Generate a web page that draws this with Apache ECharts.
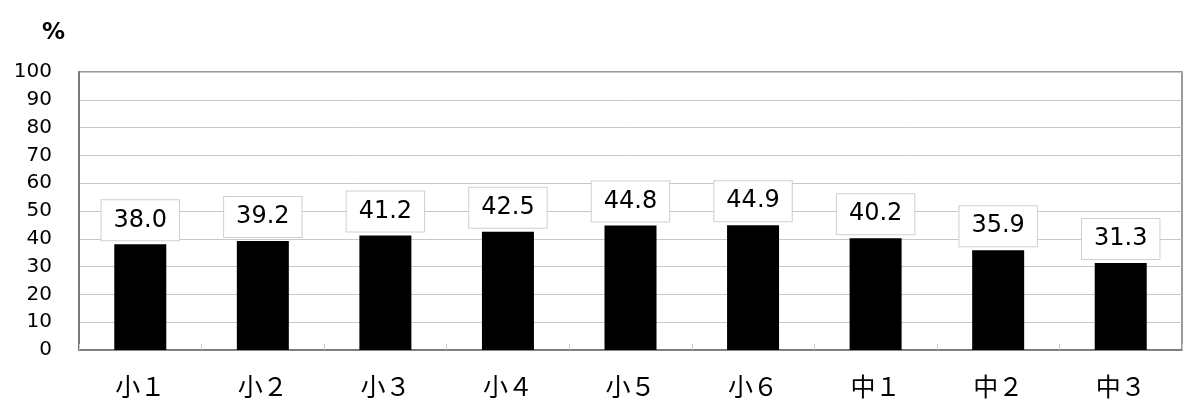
<!DOCTYPE html>
<html>
<head>
<meta charset="utf-8">
<script src="https://cdn.jsdelivr.net/npm/echarts@6/dist/echarts.min.js"></script>
<style>html,body{margin:0;padding:0;background:#fff}#c{width:1200px;height:413px}</style>
</head>
<body>
<div id="c"></div>
<script>
var categories = ['小１', '小２', '小３', '小４', '小５', '小６', '中１', '中２', '中３'];
var values = [38.0, 39.2, 41.2, 42.5, 44.8, 44.9, 40.2, 35.9, 31.3];
var yTicks = { min: 0, max: 100, interval: 10 };
var unitLabel = '%';

var chart = echarts.init(document.getElementById('c'));
chart.setOption({
  animation: false,
  backgroundColor: '#fff',
  grid: {
    left: 79, right: 18, top: 72, bottom: 63,
    show: true, borderColor: '#7a7a7a', borderWidth: 1.5, backgroundColor: '#fff'
  },
  graphic: [{
    type: 'text', left: 42, top: 22,
    style: { text: unitLabel, font: 'bold 23px "DejaVu Sans"', fill: '#000' }
  }],
  xAxis: {
    type: 'category',
    data: categories,
    axisLine: { show: true, lineStyle: { color: '#6e6e6e', width: 1.5 } },
    axisTick: { show: true, inside: true, length: 6, lineStyle: { color: '#c8c8c8' } },
    axisLabel: {
      margin: 24, fontSize: 25, color: '#000',
      fontFamily: '"Noto Sans CJK JP", sans-serif'
    }
  },
  yAxis: {
    type: 'value',
    min: yTicks.min, max: yTicks.max, interval: yTicks.interval,
    axisLine: { show: true, lineStyle: { color: '#6e6e6e', width: 1.5 } },
    axisTick: { show: false },
    splitLine: { show: true, lineStyle: { color: '#c8c8c8', width: 1 } },
    axisLabel: {
      margin: 27, fontSize: 20, color: '#000',
      fontFamily: '"DejaVu Sans", sans-serif',
      padding: [5, 0, 0, 0]
    }
  },
  series: [{
    type: 'bar',
    data: values,
    barWidth: 52,
    itemStyle: { color: '#000' },
    label: {
      show: true,
      position: 'top',
      distance: 4,
      formatter: function (p) { return p.value.toFixed(1); },
      fontSize: 24,
      fontFamily: '"DejaVu Sans", sans-serif',
      color: '#000',
      backgroundColor: '#fff',
      borderColor: '#cfcfcf',
      borderWidth: 1,
      padding: [8, 12, 8, 12]
    }
  }]
});
</script>
</body>
</html>
